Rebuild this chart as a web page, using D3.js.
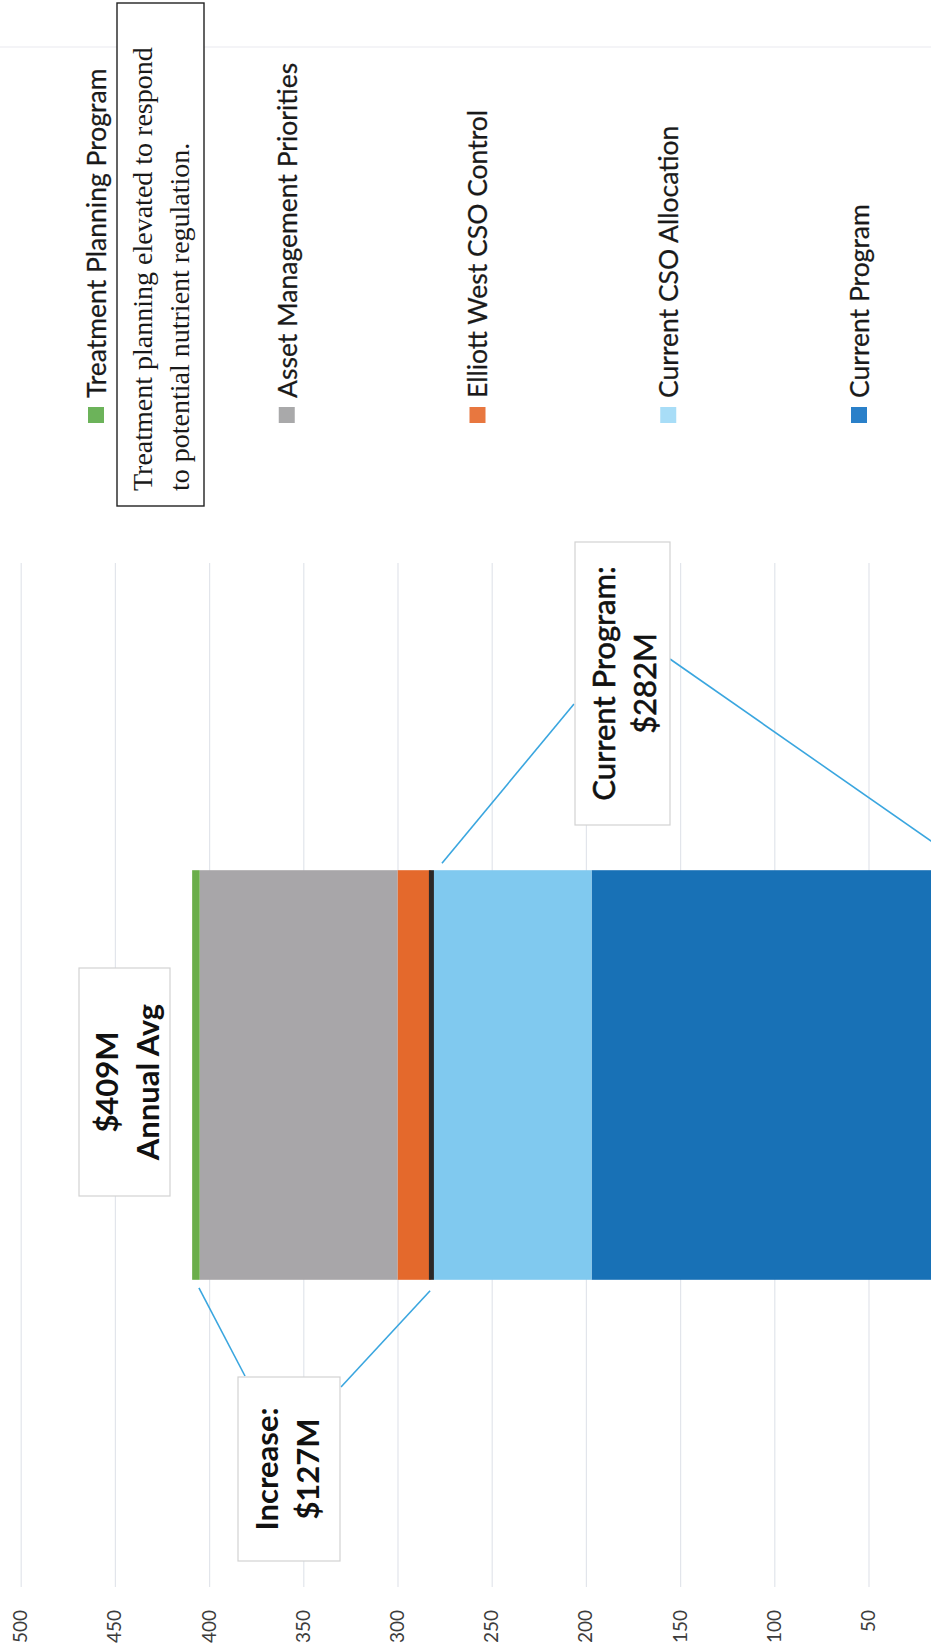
<!DOCTYPE html>
<html>
<head>
<meta charset="utf-8">
<script src="https://cdn.jsdelivr.net/npm/d3@7"></script>
<style>
  html, body { margin: 0; padding: 0; background: #ffffff; }
  svg { display: block; }
</style>
</head>
<body>
<svg id="chart" width="931" height="1648"></svg>
<script>
// ---- data ($ millions, annual average) ----
const categories = ["Annual Average"];
const seriesNames = [
  "Current Program",
  "Current CSO Allocation",
  "Elliott West CSO Control",
  "Asset Management Priorities",
  "Treatment Planning Program"
];
const seriesValues = [197, 85, 18, 105, 4];
const barColors = ["#1871b6", "#80c9ef", "#e4692c", "#a8a6a9", "#6aae4a"];
const swatchColors = ["#2a80c9", "#a8ddf7", "#e8773f", "#a9a9aa", "#6cb35a"];
const legendOrder = [
  "Treatment Planning Program",
  "Asset Management Priorities",
  "Elliott West CSO Control",
  "Current CSO Allocation",
  "Current Program"
];
const tickValues = [50, 100, 150, 200, 250, 300, 350, 400, 450, 500];
const noteLines = [
  "Treatment planning elevated to respond",
  "to potential nutrient regulation."
];

// ---- derived totals used by the callouts ----
const currentTotal = seriesValues[0] + seriesValues[1];
const grandTotal = d3.sum(seriesValues);
const increase = grandTotal - currentTotal;

// The chart is laid out as a column chart (1648 wide x 931 tall) and then
// turned a quarter turn counter-clockwise to fill the portrait page.
const W = 1648, H = 931;
const svg = d3.select("#chart");
const g = svg.append("g").attr("transform", `translate(0,${W}) rotate(-90)`);

const plotLeft = 61, plotRight = 1085;

const y = d3.scaleLinear().domain([0, 500]).range([962.7, 20.7]);
const x = d3.scaleBand().domain(categories)
  .range([plotLeft, plotRight]).paddingInner(0.6).paddingOuter(0.3);
const color = d3.scaleOrdinal().domain(seriesNames).range(barColors);
const swatch = d3.scaleOrdinal().domain(seriesNames).range(swatchColors);

// faint page rule near the legend edge
g.append("line")
  .attr("x1", 1601).attr("x2", 1601).attr("y1", 0).attr("y2", H)
  .attr("stroke", "#f0f1f4").attr("stroke-width", 1.5);

// ---- value axis with gridlines ----
const axis = d3.axisLeft(y)
  .tickValues(tickValues)
  .tickSize(-(plotRight - plotLeft))
  .tickPadding(23);
const axisG = g.append("g").attr("transform", `translate(${plotLeft},0)`).call(axis);
axisG.select(".domain").remove();
axisG.selectAll(".tick line").attr("stroke", "#e2e5eb").attr("stroke-width", 1.2);
axisG.selectAll(".tick text")
  .attr("font-family", "Lato, 'Open Sans', sans-serif")
  .attr("font-size", 19)
  .attr("fill", "#3c3c3c");

// ---- stacked bar ----
const row = { category: categories[0] };
seriesNames.forEach((n, i) => { row[n] = seriesValues[i]; });
const stacked = d3.stack().keys(seriesNames)([row]);

g.append("g").selectAll("g")
  .data(stacked)
  .join("g")
  .attr("fill", d => color(d.key))
  .selectAll("rect")
  .data(d => d)
  .join("rect")
  .attr("x", d => x(d.data.category))
  .attr("width", x.bandwidth())
  .attr("y", d => y(d[1]))
  .attr("height", d => y(d[0]) - y(d[1]));

// divider marking the top of the current program
g.append("line")
  .attr("x1", x(categories[0])).attr("x2", x(categories[0]) + x.bandwidth())
  .attr("y1", y(currentTotal)).attr("y2", y(currentTotal))
  .attr("stroke", "#2b2828").attr("stroke-width", 5);

// ---- callouts ----
const bx0 = x(categories[0]), bx1 = x(categories[0]) + x.bandwidth();
const leader = "#3aa6df";
function leaderLine(x1, y1, x2, y2) {
  g.append("line").attr("x1", x1).attr("y1", y1).attr("x2", x2).attr("y2", y2)
    .attr("stroke", leader).attr("stroke-width", 1.6);
}
function callout(bx, by, bw, bh, lines, baselines, weight, extra) {
  g.append("rect").attr("x", bx).attr("y", by).attr("width", bw).attr("height", bh)
    .attr("fill", "#ffffff").attr("stroke", "#d2d2d2").attr("stroke-width", 1.2);
  lines.forEach((t, i) => {
    g.append("text")
      .attr("x", bx + bw / 2).attr("y", baselines[i])
      .attr("text-anchor", "middle")
      .attr("font-family", "Lato, 'Open Sans', sans-serif")
      .attr("font-size", 31)
      .attr("font-weight", weight)
      .attr("fill", "#111111")
      .attr("stroke", "#111111")
      .attr("stroke-width", extra)
      .text(t);
  });
}

// increase over the current program
leaderLine(bx0 - 8, y(405.4), 272, 245);
leaderLine(bx0 - 11, y(282.7), 261, 341);
callout(87, 238, 184, 102, ["Increase:", `$${increase}M`], [278, 319], 700, 0);

// total annual average
callout(452, 79, 228, 91, [`$${grandTotal}M`, "Annual Avg"], [118, 159], 700, 0);

// current program
leaderLine(bx1 + 7, y(276.4), 944, 574);
leaderLine(989, 670, bx1 + 7, y(0));
callout(823, 575, 283, 95, ["Current Program:", `$${currentTotal}M`], [615, 656], 400, 0.6);

// ---- legend ----
const legendY = d3.scalePoint().domain(legendOrder).range([96, 859]);
const legend = g.append("g");
legendOrder.forEach(name => {
  const cy = legendY(name);
  legend.append("rect")
    .attr("x", 1225).attr("y", cy - 8).attr("width", 16).attr("height", 16)
    .attr("fill", swatch(name));
  legend.append("text")
    .attr("x", 1250).attr("y", cy)
    .attr("dy", "0.37em")
    .attr("font-family", "Lato, 'Open Sans', sans-serif")
    .attr("font-size", 26.5)
    .attr("fill", "#1a1a1a")
    .attr("stroke", "#1a1a1a")
    .attr("stroke-width", 0.25)
    .text(name);
});

// note under the treatment planning entry
legend.append("rect")
  .attr("x", 1142).attr("y", 117).attr("width", 503).attr("height", 87)
  .attr("fill", "#ffffff").attr("stroke", "#222222").attr("stroke-width", 1.4);
noteLines.forEach((t, i) => {
  legend.append("text")
    .attr("x", 1157).attr("y", [152, 189][i])
    .attr("font-family", "'Liberation Serif', 'DejaVu Serif', serif")
    .attr("font-size", 28)
    .attr("fill", "#1a1a1a")
    .text(t);
});
</script>
</body>
</html>
